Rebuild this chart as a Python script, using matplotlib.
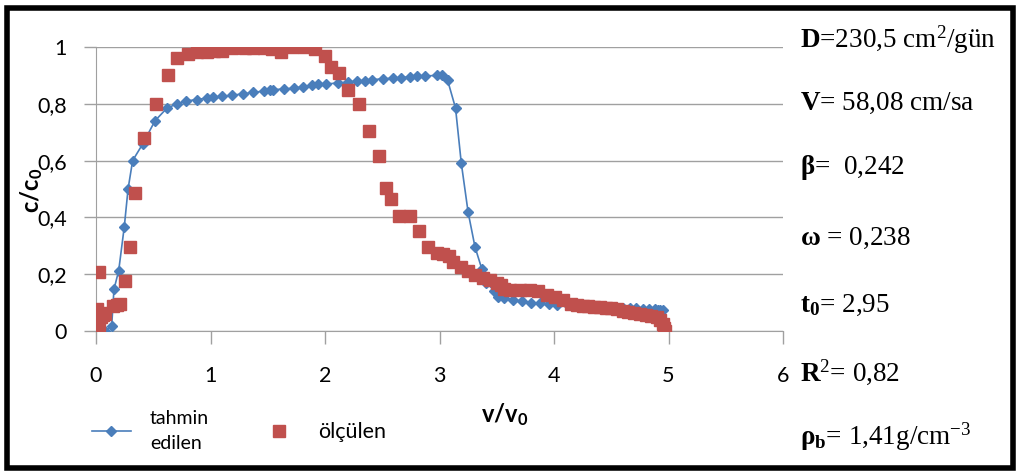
import matplotlib.pyplot as plt
from matplotlib.patches import Rectangle

plt.rcParams['mathtext.fontset'] = 'custom'
plt.rcParams['mathtext.rm'] = 'Liberation Serif'
plt.rcParams['mathtext.bf'] = 'Liberation Serif:bold'
plt.rcParams['mathtext.it'] = 'Liberation Serif:italic'
plt.rcParams['mathtext.sf'] = 'Lato:bold'

# tahmin edilen (model)
x_model = [0.0, 0.08, 0.137, 0.157, 0.198, 0.247, 0.28, 0.32, 0.41, 0.515, 0.62, 0.71,
           0.79, 0.88, 0.97, 1.02, 1.1, 1.19, 1.28, 1.37, 1.47, 1.52, 1.55, 1.64, 1.73,
           1.81, 1.89, 1.94, 2.01, 2.11, 2.2, 2.28, 2.35, 2.41, 2.51, 2.59, 2.66, 2.74,
           2.8, 2.87, 2.98, 3.02, 3.07, 3.14, 3.19, 3.25, 3.31, 3.37, 3.41, 3.48, 3.51,
           3.56, 3.64, 3.72, 3.8, 3.88, 3.96, 4.03, 4.12, 4.2, 4.28, 4.36, 4.44, 4.52,
           4.6, 4.66, 4.72, 4.78, 4.83, 4.88, 4.91, 4.93, 4.95]
y_model = [0.0, 0.0, 0.019, 0.147, 0.212, 0.367, 0.5, 0.6, 0.66, 0.74, 0.785, 0.80,
           0.81, 0.815, 0.82, 0.823, 0.826, 0.83, 0.835, 0.84, 0.845, 0.848, 0.85, 0.852,
           0.855, 0.86, 0.865, 0.868, 0.87, 0.873, 0.876, 0.88, 0.882, 0.885, 0.888, 0.89,
           0.892, 0.895, 0.897, 0.898, 0.9, 0.9, 0.884, 0.785, 0.592, 0.418, 0.296, 0.218,
           0.169, 0.142, 0.121, 0.117, 0.11, 0.105, 0.1, 0.098, 0.096, 0.093, 0.091, 0.089,
           0.087, 0.085, 0.084, 0.083, 0.082, 0.081, 0.08, 0.079, 0.078, 0.077, 0.075,
           0.074, 0.074]

# ölçülen (measured)
x_meas = [0.0, 0.006, 0.01, 0.02, 0.03, 0.04, 0.05, 0.06, 0.08, 0.03, 0.146, 0.18,
          0.21, 0.25, 0.3, 0.34, 0.42, 0.52, 0.63, 0.71, 0.8, 0.88, 0.97, 1.03, 1.1,
          1.19, 1.3, 1.37, 1.47, 1.54, 1.62, 1.71, 1.82, 1.91, 2.0, 2.05, 2.12, 2.2,
          2.3, 2.38, 2.47, 2.53, 2.58, 2.65, 2.74, 2.82, 2.9, 2.98, 3.03, 3.08, 3.12,
          3.19, 3.25, 3.31, 3.38, 3.44, 3.5, 3.54, 3.56, 3.62, 3.7, 3.79, 3.86, 3.94,
          4.01, 4.08, 4.15, 4.2, 4.25, 4.3, 4.35, 4.4, 4.45, 4.5, 4.55, 4.6, 4.65, 4.7,
          4.75, 4.8, 4.85, 4.9, 4.93, 4.95, 4.96, 4.97]
y_meas = [0.0, 0.077, 0.01, 0.03, 0.02, 0.05, 0.065, 0.055, 0.06, 0.209, 0.088, 0.09,
          0.094, 0.176, 0.297, 0.485, 0.68, 0.8, 0.9, 0.96, 0.974, 0.983, 0.983, 0.985,
          0.985, 0.995, 0.997, 0.997, 0.997, 0.992, 0.983, 1.0, 1.0, 0.992, 0.97, 0.93,
          0.907, 0.849, 0.798, 0.704, 0.616, 0.505, 0.464, 0.405, 0.405, 0.352, 0.297,
          0.274, 0.27, 0.264, 0.244, 0.224, 0.212, 0.197, 0.188, 0.18, 0.17, 0.162,
          0.147, 0.144, 0.144, 0.143, 0.14, 0.127, 0.121, 0.109, 0.095, 0.09, 0.088,
          0.087, 0.085, 0.083, 0.082, 0.08, 0.077, 0.072, 0.068, 0.064, 0.06, 0.057,
          0.053, 0.048, 0.04, 0.025, 0.01, 0.0]

x_ticks = [0, 1, 2, 3, 4, 5, 6]
y_ticks = [0, 0.2, 0.4, 0.6, 0.8, 1.0]
y_ticklabels = ['0', '0,2', '0,4', '0,6', '0,8', '1']

params = [
    r'$\mathbf{D}$=230,5 cm$^{2}$/gün',
    r'$\mathbf{V}$= 58,08 cm/sa',
    r'$\mathbf{β}$=  0,242',
    r'$\mathbf{ω}$ = 0,238',
    r'$\mathbf{t_0}$= 2,95',
    r'$\mathbf{R}^{2}$= 0,82',
    r'$\mathbf{ρ_b}$= 1,41g/cm$^{-3}$',
]
param_y = [40, 103, 168, 238, 305, 372, 437]

blue = '#4a7ebb'
red = '#c0504d'
grid_c = '#a0a0a0'

W, H = 1022, 475
fig = plt.figure(figsize=(W / 100, H / 100), dpi=100)
ax = fig.add_axes([96 / W, 1 - 331 / H, (783 - 96) / W, (331 - 47) / H])

ax.plot(x_model, y_model, color=blue, lw=1.2, marker='D', ms=5,
        mfc=blue, mec=blue, label='tahmin\nedilen', zorder=3)
ax.plot(x_meas, y_meas, ls='none', marker='s', ms=8, mfc=red, mec=red,
        label='ölçülen', zorder=4)

ax.set_xlim(0, 6)
ax.set_ylim(0, 1)
ax.set_xticks(x_ticks)
ax.set_yticks(y_ticks)
ax.set_yticklabels(y_ticklabels)
ax.tick_params(labelsize=15.5, color=grid_c, length=9, width=1)
ax.tick_params(axis='x', pad=16)
ax.tick_params(axis='y', pad=12)
for lab in ax.get_xticklabels() + ax.get_yticklabels():
    lab.set_fontfamily('Lato')
ax.grid(axis='y', color=grid_c, lw=1)
ax.set_axisbelow(True)
for s in ['top', 'right']:
    ax.spines[s].set_visible(False)
for s in ['left', 'bottom']:
    ax.spines[s].set_color(grid_c)

fig.text(505 / W, 1 - 415 / H, r'$\mathsf{v/v_0}$', fontsize=17,
         ha='center', va='center')
fig.text(32 / W, 1 - 190 / H, r'$\mathsf{c/c_0}$', fontsize=17,
         ha='center', va='center', rotation=90)

leg = fig.legend(loc='center left', bbox_to_anchor=(84 / W, 1 - 431 / H),
                 ncol=2, frameon=False, prop={'family': 'Lato', 'size': 14},
                 handlelength=2.0, columnspacing=2.6, handletextpad=1.0,
                 borderaxespad=0)
leg.get_texts()[0].set_linespacing(1.6)
leg.get_texts()[1].set_fontsize(15.5)

for txt, yy in zip(params, param_y):
    fig.text(800 / W, 1 - yy / H, txt, fontsize=19.5, family='Liberation Serif',
             ha='left', va='center')

fig.patches.append(Rectangle((7 / W, 7 / H), 1006 / W, 460 / H,
                             transform=fig.transFigure, fill=False,
                             ec='black', lw=4))

fig.savefig('out.png', dpi=100)
